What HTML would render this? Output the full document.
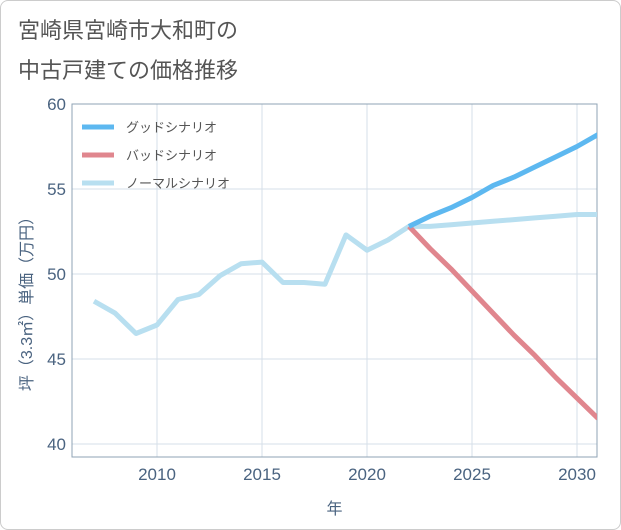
<!DOCTYPE html>
<html><head><meta charset="utf-8"><style>
body{margin:0;background:#fff;font-family:"Liberation Sans","Noto Sans CJK JP",sans-serif;}
#wrap{position:relative;width:619px;height:528px;border:1px solid #ccc;border-radius:8px;overflow:hidden;background:#fff}
</style></head><body>
<div id="wrap">
<svg id="c" width="621" height="530" style="position:absolute;left:-1px;top:-1px"></svg>
</div>
<script>
const years=[2007,2008,2009,2010,2011,2012,2013,2014,2015,2016,2017,2018,2019,2020,2021,2022,2023,2024,2025,2026,2027,2028,2029,2030,2031];
const normal=[48.4,47.7,46.5,47.0,48.5,48.8,49.9,50.6,50.7,49.5,49.5,49.4,52.3,51.4,52.0,52.8,52.8,52.9,53.0,53.1,53.2,53.3,53.4,53.5,53.5];
const fYears=[2022,2023,2024,2025,2026,2027,2028,2029,2030,2031];
const good=[52.8,53.4,53.9,54.5,55.2,55.7,56.3,56.9,57.5,58.2];
const bad=[52.8,51.5,50.3,49.0,47.7,46.4,45.2,43.9,42.7,41.5];
const xTicks=[2010,2015,2020,2025,2030];
const yTicks=[40,45,50,55,60];
const NS="http://www.w3.org/2000/svg";
const svg=document.getElementById('c');
const L=72,R=597,T=104,B=457;
const AX='#4a6380';
const x=v=>157+(v-2010)*21;
const y=v=>104+(60-v)*17;
function el(t,a,p){const e=document.createElementNS(NS,t);for(const k in a)e.setAttribute(k,a[k]);(p||svg).appendChild(e);return e;}
function txt(s,a){const e=el('text',a);e.textContent=s;return e;}
const t1=txt('宮崎県宮崎市大和町の',{x:18,y:38,'font-size':22,fill:'#555'});


const t2=txt('中古戸建ての価格推移',{x:18,y:78,'font-size':22,fill:'#555'});


xTicks.forEach(v=>{const g=el('line',{x1:x(v),x2:x(v),y1:T,y2:B,stroke:'#d5dfe8'});


const t=txt(v,{x:x(v),y:B+23,'font-size':17,fill:AX,'text-anchor':'middle'});

});
yTicks.forEach(v=>{const g=el('line',{x1:L,x2:R,y1:y(v),y2:y(v),stroke:'#d5dfe8'});


const t=txt(v,{x:L-6,y:y(v)+6,'font-size':17,fill:AX,'text-anchor':'end'});

});
const plot=el('rect',{x:L,y:T,width:R-L,height:B-T,fill:'none',stroke:'#8fa3b5'});


const xt=txt('年',{x:(L+R)/2,y:514,'font-size':16,fill:AX,'text-anchor':'middle'});


const yt=txt('坪（3.3㎡）単価（万円）',{x:0,y:0,'font-size':16,fill:AX,'text-anchor':'middle',transform:'translate(32,300) rotate(-90)'});


function line(xs,ys,c,name){const p=el('polyline',{points:xs.map((v,i)=>x(v)+','+y(ys[i])).join(' '),fill:'none',stroke:c,'stroke-width':5,'stroke-linejoin':'round','clip-path':'url(#cp)'});

}
const cp=el('clipPath',{id:'cp'});el('rect',{x:L,y:T,width:R-L,height:B-T},cp);
line(years,normal,'#b8dff0','normal-scenario-line');
line(fYears,bad,'#e0868e','bad-scenario-line');
line(fYears,good,'#5db8f0','good-scenario-line');
[['グッドシナリオ','#5db8f0'],['バッドシナリオ','#e0868e'],['ノーマルシナリオ','#b8dff0']].forEach((d,i)=>{
const yy=127+i*28;
const g=el('g',{});


el('line',{x1:82,x2:114,y1:yy,y2:yy,stroke:d[1],'stroke-width':5},g);
const t=el('text',{x:126,y:yy+5,'font-size':13,fill:'#555'},g);t.textContent=d[0];});
</script>
</body></html>
